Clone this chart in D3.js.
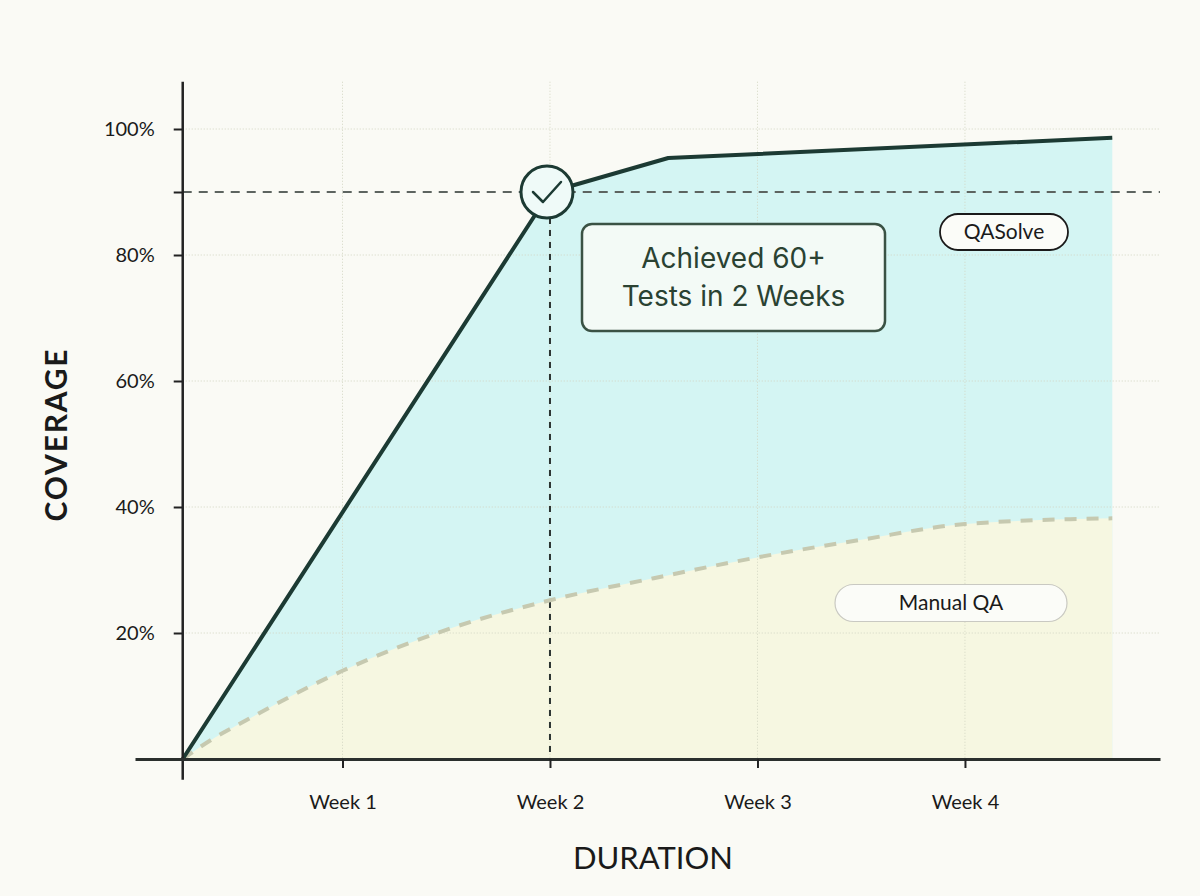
<!DOCTYPE html>
<html>
<head>
<meta charset="utf-8">
<script src="https://cdn.jsdelivr.net/npm/d3@7"></script>
<style>
  html, body { margin: 0; padding: 0; background: #fafaf5; }
  svg { display: block; }
  .tick text { font-family: Lato, "Open Sans", sans-serif; fill: #1a1a1a; }
</style>
</head>
<body>
<svg id="chart" width="1200" height="896"></svg>
<script>
// ---- data ----
const weekTicks = [1, 2, 3, 4];
const weekLabels = ["Week 1", "Week 2", "Week 3", "Week 4"];
const coverageTicks = [20, 40, 60, 80, 100];
const targetLevel = 90;          // dashed target line
const milestoneWeek = 2;         // checkmark / vertical guide

const qasolveWeeks  = [0.23, 2, 2.57, 4.71];
const qasolveValues = [0, 90, 95.4, 98.6];

const manualWeeks  = [0.23, 0.38, 0.5, 1, 1.5, 2, 2.5, 3, 3.5, 4, 4.71];
const manualValues = [0, 3.3, 5.5, 14, 20.5, 25.2, 28.7, 32, 34.8, 37.3, 38.2];

const qasolve = qasolveWeeks.map((w, i) => ({ week: w, value: qasolveValues[i] }));
const manual  = manualWeeks.map((w, i) => ({ week: w, value: manualValues[i] }));

const svg = d3.select("#chart");

// scales: x axis line spans weeks 0..4.94, y axis sits at the first data week
const x = d3.scaleLinear().domain([0, 4.94]).range([135, 1160]);
const y = d3.scaleLinear().domain([0, 100]).range([759, 129]);
const x0 = qasolveWeeks[0];
const xEnd = 4.94;

svg.append("rect").attr("width", 1200).attr("height", 896).attr("fill", "#fafaf5");

// ---- fills ----
const area = d3.area().x(d => x(d.week)).y0(y(0)).y1(d => y(d.value));
svg.append("path").datum(qasolve)
  .attr("fill", "#d4f5f3").attr("d", area);
svg.append("path").datum(manual)
  .attr("fill", "#f6f7e1").attr("d", area.curve(d3.curveMonotoneX));

// ---- grid ----
const grid = svg.append("g").attr("stroke", "#d3d6c3").attr("stroke-width", 1)
  .attr("stroke-dasharray", "1,2");
grid.selectAll(".hg").data(coverageTicks).join("line")
  .attr("x1", x(x0)).attr("x2", x(xEnd))
  .attr("y1", d => y(d)).attr("y2", d => y(d));
grid.selectAll(".vg").data(weekTicks).join("line")
  .attr("x1", d => x(d)).attr("x2", d => x(d))
  .attr("y1", y(107.5)).attr("y2", y(0));

// ---- target & milestone guides ----
svg.append("line")
  .attr("x1", x(x0)).attr("x2", x(xEnd))
  .attr("y1", y(targetLevel)).attr("y2", y(targetLevel))
  .attr("stroke", "#5d6460").attr("stroke-width", 2).attr("stroke-dasharray", "9,7");

svg.append("line")
  .attr("x1", x(milestoneWeek)).attr("x2", x(milestoneWeek))
  .attr("y1", y(targetLevel) + 26).attr("y2", y(0))
  .attr("stroke", "#2b3431").attr("stroke-width", 2).attr("stroke-dasharray", "6,6");

// ---- series lines ----
svg.append("path").datum(manual)
  .attr("fill", "none").attr("stroke", "#c6c9b0").attr("stroke-width", 4)
  .attr("stroke-dasharray", "12,10")
  .attr("d", d3.line().x(d => x(d.week)).y(d => y(d.value)).curve(d3.curveMonotoneX));

svg.append("path").datum(qasolve)
  .attr("fill", "none").attr("stroke", "#1c3a33").attr("stroke-width", 4)
  .attr("stroke-linejoin", "round")
  .attr("d", d3.line().x(d => x(d.week)).y(d => y(d.value)));

// ---- axes ----
const yAxis = svg.append("g")
  .attr("transform", `translate(${x(x0)},0)`)
  .call(d3.axisLeft(y).tickValues([...coverageTicks, targetLevel])
    .tickFormat(d => d === targetLevel ? "" : d + "%")
    .tickSize(9).tickPadding(19).tickSizeOuter(0));
yAxis.select(".domain").remove();
yAxis.selectAll(".tick line").attr("stroke", "#222").attr("stroke-width", 2);
yAxis.selectAll(".tick text").attr("font-size", 20);
svg.append("line")
  .attr("x1", x(x0)).attr("x2", x(x0))
  .attr("y1", y(107.5)).attr("y2", y(-3.3))
  .attr("stroke", "#222").attr("stroke-width", 2.5);

const xAxis = svg.append("g")
  .attr("transform", `translate(0,${y(0)})`)
  .call(d3.axisBottom(x).tickValues(weekTicks)
    .tickFormat((d, i) => weekLabels[i])
    .tickSize(9).tickPadding(27).tickSizeOuter(0));
xAxis.select(".domain").attr("stroke", "#2a2f2d").attr("stroke-width", 3);
xAxis.selectAll(".tick line").attr("stroke", "#222").attr("stroke-width", 2);
xAxis.selectAll(".tick text").attr("font-size", 20);

svg.append("text")
  .attr("transform", `translate(67,${y(51.5)}) rotate(-90)`)
  .attr("text-anchor", "middle")
  .attr("font-family", "Lato, sans-serif").attr("font-weight", 700)
  .attr("font-size", 30).attr("letter-spacing", 1.8).attr("fill", "#1a1a1a")
  .text("COVERAGE");

svg.append("text")
  .attr("x", 653).attr("y", 869)
  .attr("text-anchor", "middle")
  .attr("font-family", "Lato, sans-serif")
  .attr("font-size", 31).attr("fill", "#1a1a1a")
  .text("DURATION");

// ---- milestone check ----
const check = svg.append("g")
  .attr("transform", `translate(${x(milestoneWeek) - 3},${y(targetLevel)})`);
check.append("circle").attr("r", 26)
  .attr("fill", "#effaf8").attr("stroke", "#1c3a33").attr("stroke-width", 3);
check.append("path").attr("d", "M-14,0 L-4,10 L14,-10")
  .attr("fill", "none").attr("stroke", "#1c3a33").attr("stroke-width", 2.5)
  .attr("stroke-linecap", "round").attr("stroke-linejoin", "round");

// ---- annotation box ----
const note = svg.append("g").attr("transform", "translate(582,224)");
note.append("rect").attr("width", 303).attr("height", 107).attr("rx", 10)
  .attr("fill", "#f3faf6").attr("stroke", "#3a5244").attr("stroke-width", 2.5);
note.selectAll("text").data(["Achieved 60+", "Tests in 2 Weeks"]).join("text")
  .attr("x", 151.5).attr("y", (d, i) => 44 + i * 38)
  .attr("text-anchor", "middle")
  .attr("font-family", "Inter, sans-serif").attr("font-size", 28)
  .attr("fill", "#2a4232")
  .text(d => d);

// ---- series labels ----
function pill(cx, cy, w, h, label, stroke, sw){
  const g = svg.append("g").attr("transform", `translate(${cx},${cy})`);
  g.append("rect").attr("x", -w / 2).attr("y", -h / 2)
    .attr("width", w).attr("height", h).attr("rx", h / 2)
    .attr("fill", "#fbfcf8").attr("stroke", stroke).attr("stroke-width", sw);
  g.append("text").attr("text-anchor", "middle").attr("dy", "0.35em")
    .attr("font-family", "Lato, sans-serif").attr("font-size", 21)
    .attr("fill", "#1a1a1a").text(label);
}
pill(1004, 232, 128, 36, "QASolve", "#1a1a1a", 1.8);
pill(951, 603, 232, 37, "Manual QA", "#c9c9c2", 1.2);
</script>
</body>
</html>
